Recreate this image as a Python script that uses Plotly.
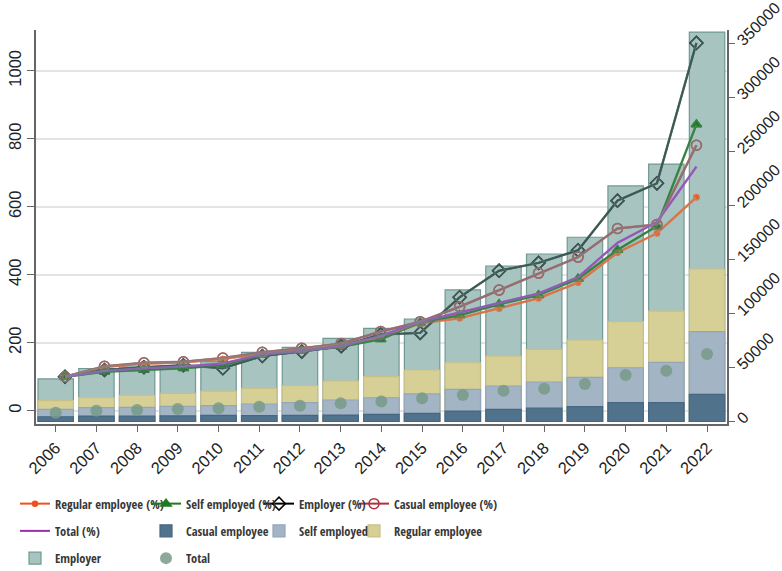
import plotly.graph_objects as go

# ---- data ----------------------------------------------------------------
years = list(range(2006, 2023))
year_labels = [str(y) for y in years]

# earnings levels (right axis)
employer = [39400, 49100, 50500, 51400, 55400, 64100, 68700, 77000, 86300,
            94900, 121800, 144000, 155100, 170600, 218100, 238400, 360600]
regular = [19300, 22000, 24300, 26100, 28200, 30700, 33100, 37500, 41500,
           47700, 54400, 60600, 66800, 75500, 92400, 102300, 141200]
self_emp = [11300, 12800, 13100, 14100, 14800, 16200, 17400, 19900, 22000,
            25500, 29800, 32900, 36600, 40900, 49800, 54800, 83200]
casual = [4400, 5000, 5100, 5200, 5600, 5400, 5700, 6000, 6600,
          7600, 9700, 11300, 12500, 13700, 17400, 17400, 25200]
total = [8100, 10000, 10600, 11600, 12200, 13700, 14600, 16800, 18600,
         21500, 24500, 28500, 30400, 34700, 43100, 47000, 62500]

# index, 2006 = 100 (left axis)
regular_pct = [100, 129, 138, 142, 152, 168, 180, 195, 216, 257, 272, 301, 331, 377, 465, 522, 628]
self_pct = [100, 115, 120, 125, 134, 164, 176, 188, 210, 259, 281, 313, 340, 388, 473, 543, 842]
employer_pct = [100, 120, 128, 134, 125, 161, 174, 190, 224, 229, 334, 412, 435, 472, 618, 669, 1082]
casual_pct = [100, 131, 141, 144, 155, 172, 184, 198, 233, 262, 306, 355, 405, 452, 536, 548, 781]
total_pct = [100, 117, 125, 130, 139, 166, 176, 190, 220, 262, 289, 316, 345, 393, 494, 555, 718]

right_ticks = list(range(0, 350001, 50000))
left_ticks = list(range(0, 1001, 200))

# ---- styling -------------------------------------------------------------
TICK_FONT = dict(family="Liberation Sans, Arial, sans-serif", size=16.5, color="#222")
RIGHT_TICK_FONT = dict(family="Liberation Sans, Arial, sans-serif", size=16, color="#222")
LEG_FONT = dict(family="Open Sans Condensed, Liberation Sans, sans-serif",
                size=12.5, color="#383838")
AXIS_COLOR = "#666"

fig = go.Figure()

# overlaid bars, tallest first so the smaller ones sit in front
bar_specs = [
    ("Employer", employer, "#a8c4c0", "#6f9a93", "legend", 3),
    ("Regular employee", regular, "#d6cf96", "#c9c088", "legend4", 2),
    ("Self employed", self_emp, "#a3b4c4", "#93a6b8", "legend3", 2),
    ("Casual employee", casual, "#50728a", "#466780", "legend2", 2),
]
for name, vals, fill, edge, leg, rank in bar_specs:
    fig.add_trace(go.Bar(
        x=years, y=vals, name=name, width=0.87,
        marker=dict(color=fill, line=dict(color=edge, width=1.2)),
        xaxis="x", yaxis="y", legend=leg, legendrank=rank, legendgroup=name,
    ))

fig.add_trace(go.Scatter(
    x=years, y=total, name="Total", mode="markers",
    marker=dict(size=12, color="#789a89", opacity=0.85),
    xaxis="x", yaxis="y", legend="legend2", legendrank=3, legendgroup="Total",
))

# growth index lines: coloured line plus a softer overlay carrying the markers
line_specs = [
    ("Regular employee (%)", regular_pct, "#f0501e", "rgba(205,135,95,0.65)",
     "circle", 5, "legend", 1),
    ("Self employed (%)", self_pct, "#1f7a1f", "rgba(70,135,90,0.6)",
     "triangle-up", 9, "legend2", 1),
    ("Employer (%)", employer_pct, "#000000", "rgba(85,125,118,0.7)",
     "diamond-open", 10, "legend3", 1),
    ("Casual employee (%)", casual_pct, "#b0303c", "rgba(140,128,128,0.75)",
     "circle-open", 10, "legend4", 1),
    ("Total (%)", total_pct, "#9a2fa8", "rgba(150,110,195,0.6)",
     None, 0, "legend", 2),
]
for name, vals, col, soft, sym, size, leg, rank in line_specs:
    mk = dict(symbol=sym, size=size, color=col,
              line=dict(color=col, width=1.5)) if sym else None
    fig.add_trace(go.Scatter(
        x=years, y=vals, name=name,
        mode="lines+markers" if sym else "lines",
        line=dict(color=col, width=2), marker=mk,
        xaxis="x2", yaxis="y2", legend=leg, legendrank=rank, legendgroup=name,
    ))
for name, vals, col, soft, sym, size, leg, rank in line_specs:
    open_sym = None
    if sym:
        open_sym = sym if sym.endswith("-open") else sym + "-open"
    fig.add_trace(go.Scatter(
        x=years, y=vals, name=name, showlegend=False, hoverinfo="skip",
        mode="lines+markers" if sym else "lines",
        line=dict(color=soft, width=2.5),
        marker=dict(symbol=open_sym, size=size, color=soft,
                    line=dict(color=soft, width=1.5)) if sym else None,
        xaxis="x2", yaxis="y2",
    ))

# ---- layout --------------------------------------------------------------
W, H = 782, 571


def legend_box(px):
    return dict(x=px / W, y=1 - 489 / H, xref="container", yref="container",
                xanchor="left", yanchor="top", orientation="v",
                bgcolor="rgba(0,0,0,0)", borderwidth=0, font=LEG_FONT,
                traceorder="grouped", tracegroupgap=8, itemwidth=30)


fig.update_layout(
    width=W, height=H,
    margin=dict(l=36, r=55, t=30, b=147, autoexpand=False),
    paper_bgcolor="white", plot_bgcolor="white",
    barmode="overlay",
    xaxis=dict(
        range=[2005.516, 2022.49], tickmode="array", tickvals=years,
        ticktext=year_labels, tickangle=-45, tickfont=TICK_FONT,
        ticks="outside", ticklen=6, tickcolor=AXIS_COLOR, tickwidth=1.3,
        showline=True, linecolor=AXIS_COLOR, linewidth=1.5,
        showgrid=False, zeroline=False, anchor="y",
    ),
    xaxis2=dict(range=[2005.265, 2022.775], overlaying="x", visible=False,
                anchor="y"),
    yaxis=dict(
        side="right", range=[-2300, 362500], tickmode="array",
        tickvals=right_ticks, ticktext=[str(v) for v in right_ticks],
        tickangle=-45, tickfont=RIGHT_TICK_FONT, ticklabeloverflow="allow",
        ticks="outside", ticklen=6, tickcolor=AXIS_COLOR, tickwidth=1.3,
        showline=True, linecolor=AXIS_COLOR, linewidth=1.5,
        showgrid=False, zeroline=False, anchor="x",
    ),
    yaxis2=dict(
        side="left", overlaying="y", range=[-39, 1120], tickmode="array",
        tickvals=left_ticks, ticktext=[str(v) for v in left_ticks],
        tickangle=-90, tickfont=TICK_FONT,
        ticks="outside", ticklen=7, tickcolor=AXIS_COLOR, tickwidth=1.3,
        showline=True, linecolor=AXIS_COLOR, linewidth=1.5,
        showgrid=True, gridcolor="#e4e4e4", gridwidth=1.5,
        zeroline=False, anchor="x",
    ),
    legend=legend_box(15),
    legend2=legend_box(146),
    legend3=legend_box(259),
    legend4=legend_box(354),
)

fig.write_html("out.html")
